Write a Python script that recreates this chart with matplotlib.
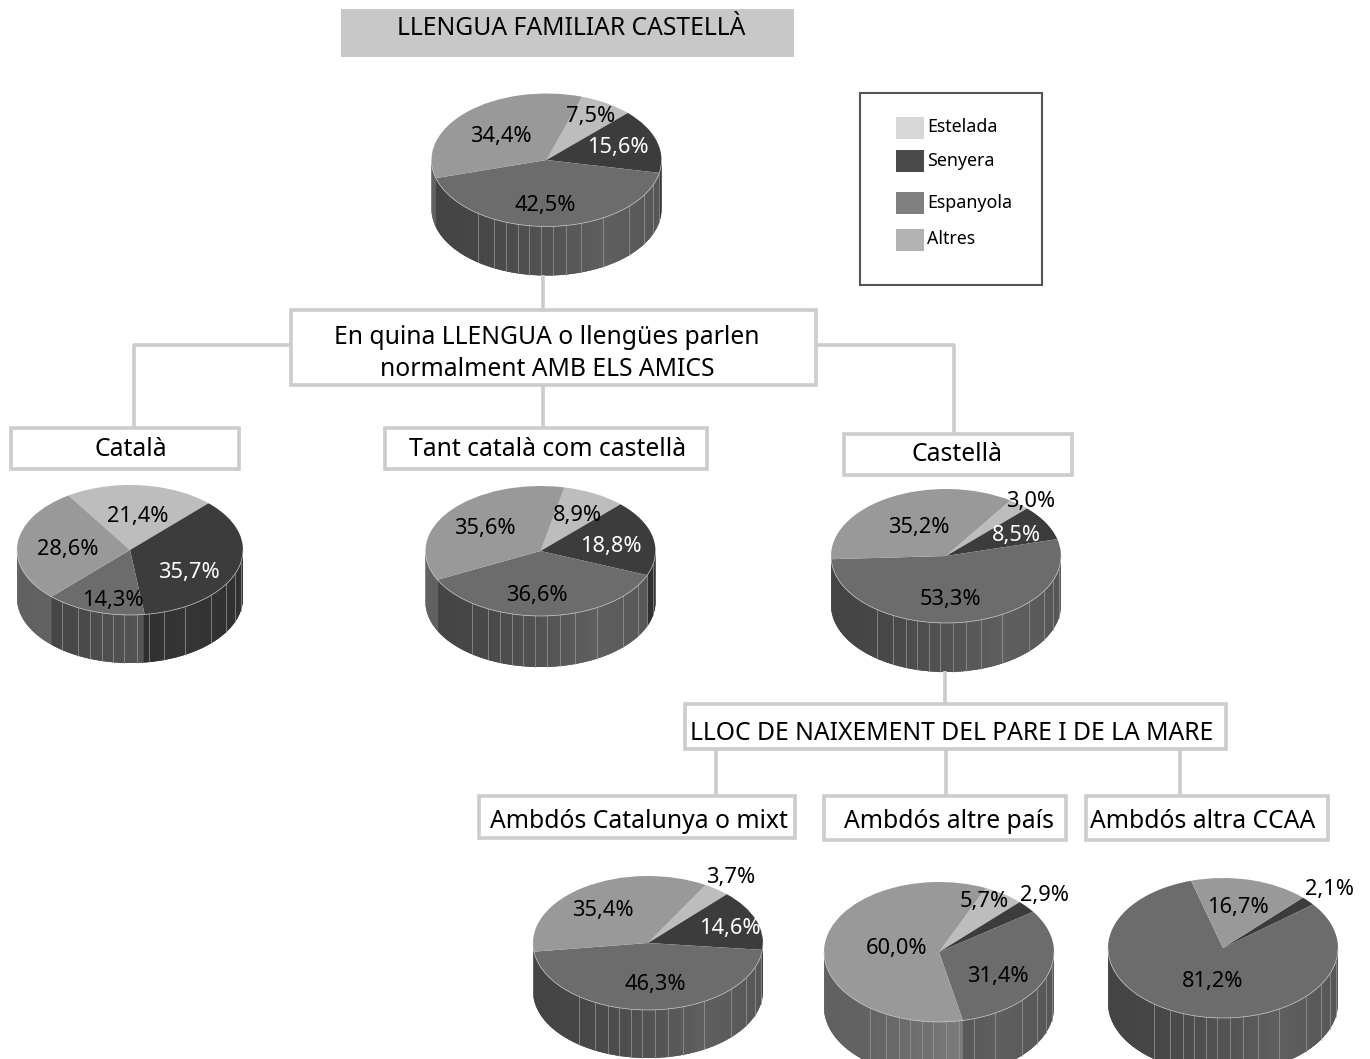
import numpy as np
import matplotlib
matplotlib.use("Agg")
import matplotlib.pyplot as plt
from matplotlib.patches import Rectangle

W, H = 1370, 1059

# Percentages in order Estelada, Senyera, Espanyola, Altres.
legend_names = ["Estelada", "Senyera", "Espanyola", "Altres"]
familiar = [7.5, 15.6, 42.5, 34.4]
catala = [21.4, 35.7, 14.3, 28.6]
tant = [8.9, 18.8, 36.6, 35.6]
castella = [3.0, 8.5, 53.3, 35.2]
catalunya_mixt = [3.7, 14.6, 46.3, 35.4]
altre_pais = [5.7, 2.9, 31.4, 60.0]
altra_ccaa = [0.0, 2.1, 81.2, 16.7]

top_colors = ["#bdbdbd", "#3c3c3c", "#6c6c6c", "#999999"]
legend_colors = ["#d7d7d7", "#4a4a4a", "#808080", "#b2b2b2"]

# Where the vertical ribs of the side wall sit, as a fraction of the radius.
ribs = [-0.6, -0.46, -0.35, -0.25, -0.15, -0.05, 0.06, 0.17, 0.3, 0.49, 0.72, 0.85, 0.93, 0.98]

plt.rcParams["font.family"] = ["Noto Sans", "DejaVu Sans"]
fig = plt.figure(figsize=(W / 100, H / 100), dpi=100)

# Background layer in pixel coordinates.
bg = fig.add_axes([0, 0, 1, 1])
bg.set_xlim(0, W)
bg.set_ylim(H, 0)
bg.axis("off")


def wall_shade(x):
    return np.interp(x, [-1, -0.6, 0, 0.5, 1], [0.63, 0.65, 0.76, 0.88, 0.8])


def draw_pie(values, start, cx, cy, rx, ry, depth):
    # One small axes per pie, stretched so the circle comes out as an ellipse.
    pad = 3
    left, right = cx - rx - pad, cx + rx + pad
    top, bottom = cy - ry - pad, cy + ry + depth + pad
    ax = fig.add_axes([left / W, 1 - bottom / H, (right - left) / W, (bottom - top) / H])
    d = depth / ry

    # Side wall, drawn strip by strip from left to right, each one running
    # a bit under the next so no seams show.
    edges = np.cumsum(values) / 100
    t = np.arange(180, 361, 1.0)
    for a, b in zip(t[:-1], t[1:]):
        frac = ((start - (a + b) / 2) % 360) / 360
        i = min(np.searchsorted(edges, frac), 3)
        base = matplotlib.colors.to_rgb(top_colors[i])
        c = min(b + 1.5, 360)
        xa, xb = np.cos(np.radians([a, c]))
        ya, yb = np.sin(np.radians([a, c]))
        col = [v * wall_shade((xa + xb) / 2) for v in base]
        ax.fill([xa, xb, xb, xa], [ya, yb, yb - d, ya - d], color=col, lw=0)
    for r in ribs:
        y = -np.sqrt(1 - r * r)
        ax.plot([r, r], [y, y - d], color="#9a9a9a", lw=0.5)

    ax.pie(values, startangle=start, counterclock=False, colors=top_colors, radius=1,
           wedgeprops={"linewidth": 0})
    t = np.radians(np.arange(180, 361, 1.0))
    ax.plot(np.cos(t), np.sin(t), color="#c8c8c8", lw=0.5)

    ax.set_xlim(-1 - pad / rx, 1 + pad / rx)
    ax.set_ylim(-1 - d - pad / ry, 1 + pad / ry)
    ax.set_aspect("auto")
    ax.axis("off")


draw_pie(familiar, 72, 546.5, 160, 115, 66.5, 49)
draw_pie(catala, 123, 130, 550, 113, 65, 48)
draw_pie(tant, 78, 540.5, 551, 115, 65, 51)
draw_pie(castella, 56, 946, 556, 115, 67, 49)
draw_pie(catalunya_mixt, 60, 648, 943, 115, 67, 48)
draw_pie(altre_pais, 66, 939, 952, 115, 70, 55)
draw_pie(altra_ccaa, 46, 1223, 948, 115, 70, 55)

# Foreground layer for text, boxes and connectors.
fg = fig.add_axes([0, 0, 1, 1])
fg.set_xlim(0, W)
fg.set_ylim(H, 0)
fg.axis("off")
fg.patch.set_alpha(0)


def box(x0, y0, x1, y1, face="white", edge="#cccccc", lw=2.6):
    fg.add_patch(Rectangle((x0, y0), x1 - x0, y1 - y0, facecolor=face, edgecolor=edge, linewidth=lw))


def link(xs, ys):
    fg.plot(xs, ys, color="#cccccc", lw=2.6, solid_capstyle="butt", zorder=0.5)


def label(x, y, s, size=17.8, color="black", ha="center"):
    fg.text(x, y + 2.5, s, fontsize=size, color=color, ha=ha, va="center")


link([543, 543], [275, 310])
link([543, 543], [385, 428])
link([291, 134, 134], [345, 345, 427])
link([816, 954, 954], [345, 345, 433])
link([945, 945], [671, 704])
link([716, 716], [749, 796])
link([946, 946], [749, 796])
link([1180, 1180], [749, 796])

box(341, 9, 794, 57, face="#c8c8c8", edge="none", lw=0)
label(571, 26, "LLENGUA FAMILIAR CASTELLÀ")

box(291, 310, 816, 385)
label(547, 335, "En quina LLENGUA o llengües parlen")
label(547, 367, "normalment AMB ELS AMICS")

box(11, 428, 239, 469)
label(131, 447, "Català")
box(385, 428, 707, 469)
label(548, 447, "Tant català com castellà")
box(844, 434, 1072, 475)
label(957, 452, "Castellà")

box(685, 704, 1226, 749)
label(952, 731, "LLOC DE NAIXEMENT DEL PARE I DE LA MARE")
box(479, 796, 795, 838)
label(639, 819, "Ambdós Catalunya o mixt")
box(824, 796, 1066, 840)
label(949, 819, "Ambdós altre país")
box(1086, 796, 1328, 840)
label(1203, 819, "Ambdós altra CCAA")

# Legend.
box(860, 93, 1042, 285, face="none", edge="#555555", lw=1.5)
swatch_y = [117, 150, 192, 229]
text_y = [124, 158, 200, 236]
for name, col, sy, ty in zip(legend_names, legend_colors, swatch_y, text_y):
    fg.add_patch(Rectangle((896, sy), 28, 22, facecolor=col, edgecolor="none"))
    label(927, ty, name, size=12.8, ha="left")

# Percentage labels, kept next to their pies.
pie_labels = [
    (591, 114, "7,5%", "black"), (618, 145, "15,6%", "white"), (545, 203, "42,5%", "black"), (501, 134, "34,4%", "black"),
    (138, 514, "21,4%", "black"), (189, 570, "35,7%", "white"), (113, 598, "14,3%", "black"), (68, 547, "28,6%", "black"),
    (577, 513, "8,9%", "black"), (611, 544, "18,8%", "white"), (537, 593, "36,6%", "black"), (485, 526, "35,6%", "black"),
    (1031, 499, "3,0%", "black"), (1016, 533, "8,5%", "white"), (950, 597, "53,3%", "black"), (919, 525, "35,2%", "black"),
    (731, 875, "3,7%", "black"), (730, 926, "14,6%", "white"), (655, 982, "46,3%", "black"), (603, 908, "35,4%", "black"),
    (984, 899, "5,7%", "black"), (1045, 893, "2,9%", "black"), (998, 974, "31,4%", "black"), (897, 946, "60,0%", "black"),
    (1238, 905, "16,7%", "black"), (1330, 887, "2,1%", "black"), (1213, 979, "81,2%", "black"),
]
for x, y, s, col in pie_labels:
    label(x, y, s, size=15.7, color=col)

fig.savefig("out.png", dpi=100)
